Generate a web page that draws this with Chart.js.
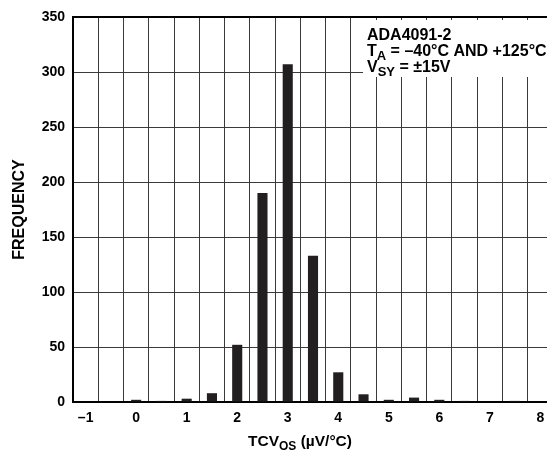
<!DOCTYPE html>
<html><head><meta charset="utf-8">
<script src="https://cdn.jsdelivr.net/npm/chart.js@4/dist/chart.umd.min.js"></script>
<style>
html,body{margin:0;padding:0;overflow:hidden;background:#fff;width:547px;height:453px}
#wrap{position:absolute;left:0;top:0;width:556px;height:453px}
</style>
</head><body><div id="wrap"><canvas id="c" width="556" height="453"></canvas></div>
<script>
const binCenters = [-1,-0.5,0,0.5,1,1.5,2,2.5,3,3.5,4,4.5,5,5.5,6,6.5,7,7.5,8];
const frequency  = [0,0,2,1,3,8,52,190,307,133,27,7,2,4,2,1,0,1,0];
const xTickLabels = ["–1","","0","","1","","2","","3","","4","","5","","6","","7","","8"];
const yMin = 0, yMax = 350, yStep = 50;
const xTitle = [{t:"TCV"},{t:"OS",sub:true},{t:" (µV/°C)"}];
const yTitle = "FREQUENCY";
const noteLines = [
  [{t:"ADA4091-2"}],
  [{t:"T"},{t:"A",sub:true},{t:" = –40°C AND +125°C"}],
  [{t:"V"},{t:"SY",sub:true},{t:" = ±15V"}]
];
const FONT = '"Liberation Sans", Arial, Helvetica, sans-serif';

function drawRuns(ctx, x, y, runs, size, align){
  const subSize = Math.round(size*0.8);
  let total = 0;
  runs.forEach(r=>{ctx.font = `bold ${r.sub?subSize:size}px ${FONT}`; total += ctx.measureText(r.t).width;});
  let cx = align==='center' ? x - total/2 : x;
  ctx.textAlign='left'; ctx.textBaseline='alphabetic'; ctx.fillStyle='#000';
  runs.forEach(r=>{
    ctx.font = `bold ${r.sub?subSize:size}px ${FONT}`;
    ctx.fillText(r.t, cx, r.sub ? y+4 : y);
    cx += ctx.measureText(r.t).width;
  });
}

const overlay = {
  id:'overlay',
  afterDraw(chart){
    const ctx = chart.ctx, a = chart.chartArea;
    ctx.save();
    ctx.fillStyle='#fff';
    ctx.fillRect(363, a.top+3, 556-363, 57);
    noteLines.forEach((ln,i)=>drawRuns(ctx, 367, 40 + i*16, ln, 16, 'left'));
    drawRuns(ctx, 300, 446, xTitle, 15.5, 'center');
    ctx.translate(24, (a.top+a.bottom)/2);
    ctx.rotate(-Math.PI/2);
    ctx.font = `bold 16px ${FONT}`; ctx.textAlign='center'; ctx.textBaseline='alphabetic';
    ctx.fillStyle='#000';
    ctx.fillText(yTitle, 0, 0);
    ctx.restore();
  }
};

new Chart(document.getElementById('c'), {
  type:'bar',
  data:{
    labels: binCenters.map(String),
    datasets:[{data: frequency, backgroundColor:'#231f20', borderWidth:0,
      barPercentage:0.4, categoryPercentage:1}]
  },
  options:{
    responsive:false, devicePixelRatio:1, animation:false,
    layout:{padding:{top:17, right:3, left:0, bottom:0}},
    plugins:{legend:{display:false}, tooltip:{enabled:false}},
    scales:{
      x:{
        type:'category', offset:true,
        grid:{offset:true, color:'#3a3a3a', lineWidth:1, drawTicks:false},
        border:{display:true, color:'#000', width:2},
        ticks:{autoSkip:false, maxRotation:0, padding:8, color:'#000',
          font:{family:FONT, size:14, weight:'bold'},
          callback:(v,i)=>xTickLabels[i]},
        afterFit:s=>{s.height = 51;}
      },
      y:{
        min:yMin, max:yMax,
        grid:{color:c=>c.tick && c.tick.value===yMax?'#000':'#3a3a3a',
              lineWidth:c=>c.tick && c.tick.value===yMax?2:1, drawTicks:false},
        border:{display:true, color:'#000', width:2},
        ticks:{stepSize:yStep, padding:8, color:'#000',
          font:{family:FONT, size:14, weight:'bold'}},
        afterFit:s=>{s.width = 73;}
      }
    }
  },
  plugins:[overlay]
});
</script>
</body></html>
